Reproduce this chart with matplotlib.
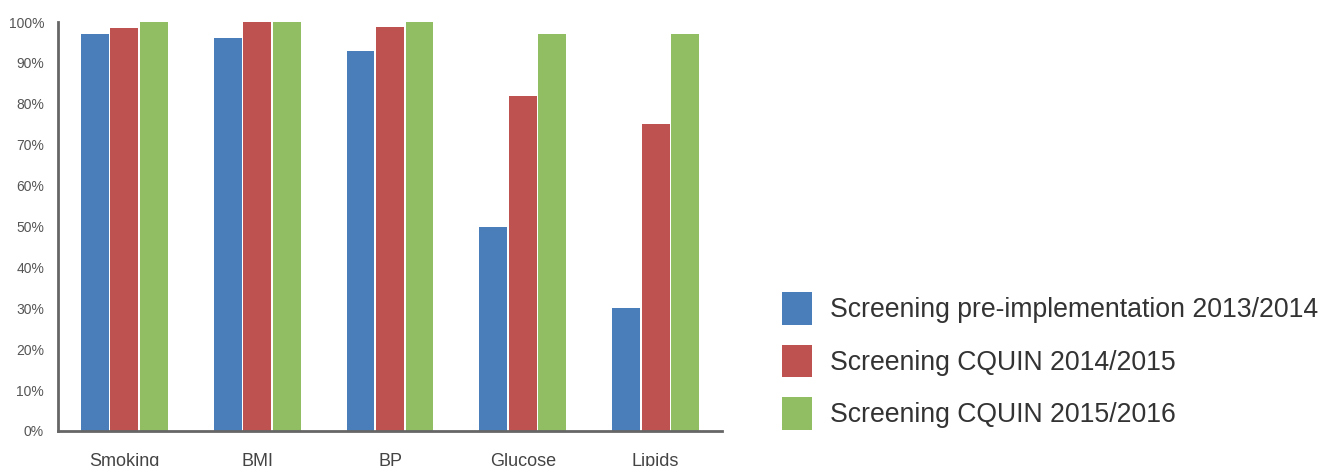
import matplotlib
matplotlib.use("Agg")
import matplotlib.pyplot as plt
import numpy as np
from matplotlib.patches import Patch

plt.rcParams['font.family'] = ['Liberation Sans', 'DejaVu Sans']

categorias = ["Smoking", "BMI", "BP", "Glucose", "Lipids"]
series = ["Screening pre-implementation 2013/2014",
          "Screening CQUIN 2014/2015",
          "Screening CQUIN 2015/2016"]
pre_2013 = [97, 96, 93, 50, 30]
cquin_2014 = [98.5, 100, 98.8, 82, 75]
cquin_2015 = [100, 100, 100, 97, 97]
colores = ["#4A7EBB", "#BE5250", "#91BD63"]

fig = plt.figure(figsize=(13.31, 4.66), dpi=100)
ax = fig.add_axes([58 / 1331, 1 - 431 / 466, (722 - 58) / 1331, (431 - 22) / 466])

x = np.arange(len(categorias))
ancho = 0.21
paso = 0.222
for i, valores in enumerate([pre_2013, cquin_2014, cquin_2015]):
    ax.bar(x + (i - 1) * paso, valores, width=ancho, color=colores[i], zorder=2)

ax.set_xlim(-0.5, len(categorias) - 0.5)
ax.set_ylim(0, 100)
ax.set_yticks(range(0, 101, 10))
ax.set_yticklabels([f"{v}%" for v in range(0, 101, 10)])
ax.set_xticks(x)
ax.set_xticklabels(categorias)

for lado in ["top", "right"]:
    ax.spines[lado].set_visible(False)
for lado in ["left", "bottom"]:
    ax.spines[lado].set_color("#666666")
    ax.spines[lado].set_linewidth(2)
    ax.spines[lado].set_zorder(3)

ax.tick_params(axis="y", length=0, pad=10, labelsize=10, labelcolor="#555555")
ax.tick_params(axis="x", length=0, pad=16, labelsize=13, labelcolor="#444444")

manejadores = [Patch(facecolor=c, edgecolor="none") for c in colores]
fig.legend(manejadores, series, loc="upper left",
           bbox_to_anchor=(782 / 1331, 1 - 292 / 466),
           frameon=False, fontsize=19.2, borderpad=0, borderaxespad=0,
           handlelength=1.13, handleheight=1.5, handletextpad=0.68,
           labelspacing=0.75, labelcolor="#333333")

plt.savefig("out.png", dpi=100)
plt.close()
